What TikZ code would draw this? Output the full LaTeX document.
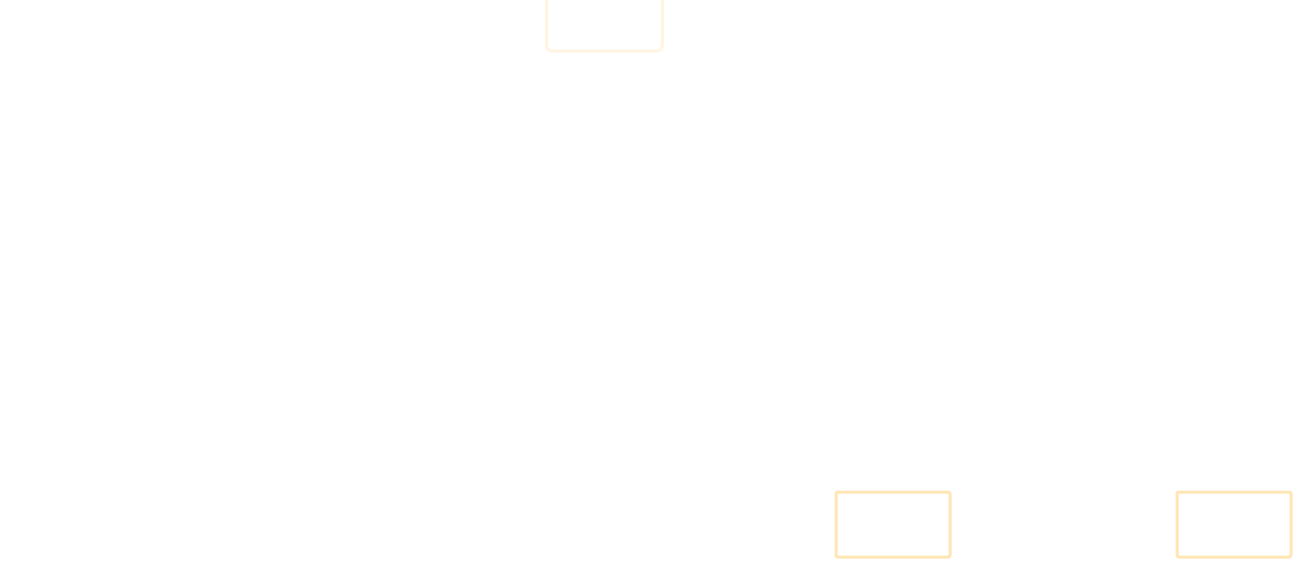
\documentclass[tikz,border=0pt]{standalone}
\usetikzlibrary{positioning}
\definecolor{boxline}{HTML}{FFE6B4}
\definecolor{glow}{HTML}{FFF5E2}

\begin{document}
\begin{tikzpicture}[
        x=1pt, y=-1pt,
        T/.style={rectangle, rounded corners=5pt, fill=white, draw=glow, line width=3pt, minimum width=116pt, minimum height=56pt, inner sep=0pt},
        B/.style={rectangle, rounded corners=2pt, fill=white, draw=boxline, line width=3pt, minimum width=114pt, minimum height=65pt, inner sep=0pt}
    ]
    \useasboundingbox (0,0) rectangle (1293,560);
    \node[T]      (top)   at (604.5,23) {};
    \node[B]      (left)  at (893,524.5) {};
    \node[B]      (right) at (1234,524.5) {};
    \end{tikzpicture}
\end{document}
